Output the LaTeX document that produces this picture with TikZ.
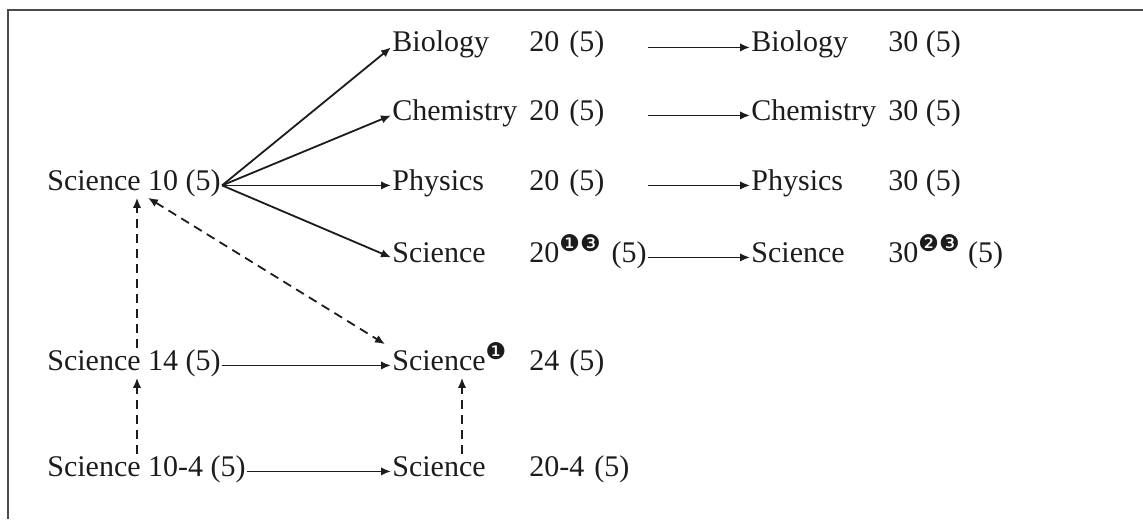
\documentclass[tikz,border=0pt]{standalone}
\usepackage{fontspec}
\setmainfont{Liberation Serif}
\newfontfamily\dingfont{DejaVu Sans}
\usepackage{xcolor}
\usepackage{tikz}
\usetikzlibrary{arrows.meta}
\definecolor{frameGray}{HTML}{4A4A4A}
\definecolor{inkBlack}{HTML}{1C1C1C}
\newcommand{\coursename}[2]{\mbox{\makebox[68.5pt][l]{#1}#2}}
\newcommand{\coursemark}[1]{\textsuperscript{\dingfont\fontsize{11.5pt}{11.5pt}\selectfont #1}}
\tikzset{
  >={Latex[length=5pt,width=4.2pt]},
  flow/.style={->, line width=0.9pt, draw=inkBlack},
  prereq/.style={flow, dash pattern=on 4.5pt off 3pt},
  course/.style={inner sep=0.5pt, anchor=base west, text=inkBlack,
    font=\fontsize{15pt}{18pt}\selectfont},
  senior course/.style={course, text width=127pt, align=left},
  frame line/.style={draw=frameGray, line width=1.1pt}
}
\begin{document}
\begin{tikzpicture}[x=0.5pt, y=-0.5pt]
  \useasboundingbox (0,0) rectangle (1143,519);
  \draw[frame line] (1143,10) -- (8,10) -- (8,519);
  % grade 10
  \node[course] (sci10) at (46,190) {Science 10 (5)};
  \node[course] (sci14) at (46,370) {Science 14 (5)};
  \node[course] (sci104) at (46,476) {Science 10-4 (5)};
  % grade 11
  \node[senior course] (bio20) at (391,52) {\coursename{Biology}{20 (5)}};
  \node[senior course] (chem20) at (391,120) {\coursename{Chemistry}{20 (5)}};
  \node[senior course] (phys20) at (391,190) {\coursename{Physics}{20 (5)}};
  \node[senior course] (sci20) at (391,262)
    {\coursename{Science}{20\coursemark{❶❸} (5)}};
  \node[senior course] (sci24) at (391,370)
    {\coursename{Science\coursemark{❶}}{24 (5)}};
  \node[senior course] (sci204) at (391,476) {\coursename{Science}{20-4 (5)}};
  % grade 12
  \node[course] (bio30) at (750,52) {\coursename{Biology}{30 (5)}};
  \node[course] (chem30) at (750,120) {\coursename{Chemistry}{30 (5)}};
  \node[course] (phys30) at (750,190) {\coursename{Physics}{30 (5)}};
  \node[course] (sci30) at (750,262)
    {\coursename{Science}{30\coursemark{❷❸} (5)}};
  % sequences
  \foreach \a/\b in {sci10/bio20, sci10/chem20, sci10/phys20, sci10/sci20,
      sci14/sci24, sci104/sci204, bio20/bio30, chem20/chem30,
      phys20/phys30, sci20/sci30}
    \draw[flow] (\a.mid east) -- (\b.mid west);
  % transfers
  \coordinate (lane10) at (137,0);
  \coordinate (lane10b) at (148,0);
  \coordinate (lane20) at (462,0);
  \draw[prereq] (sci14.north -| lane10) -- (sci10.south -| lane10);
  \draw[prereq] (sci104.north -| lane10) -- (sci14.south -| lane10);
  \draw[prereq] (sci204.north -| lane20) -- (sci24.south -| lane20);
  \draw[prereq, <->] (sci10.south -| lane10b) -- ([shift={(-6,3)}]sci24.north west);
\end{tikzpicture}
\end{document}
